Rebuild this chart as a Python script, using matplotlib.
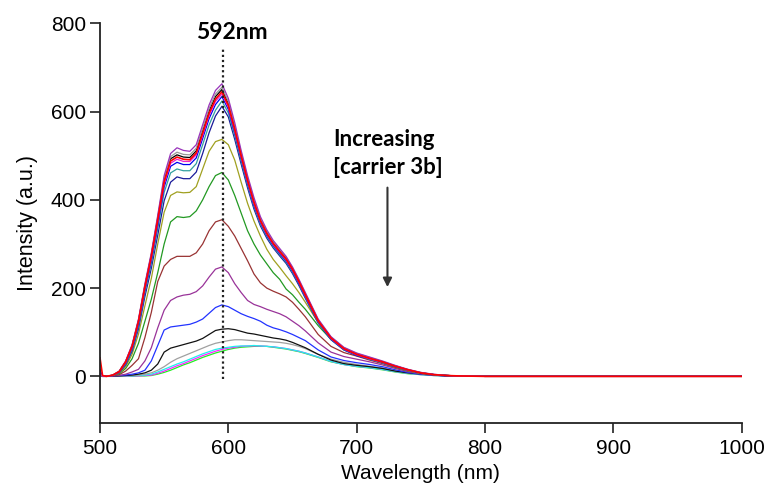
import matplotlib
matplotlib.use("Agg")
import matplotlib.pyplot as plt

# Wavelength grid (nm)
W = [500, 502, 505, 510, 515, 520, 525, 530, 535, 540,
     545, 550, 555, 560, 565, 570, 575, 580, 585, 590,
     595, 600, 605, 610, 615, 620, 625, 630, 635, 640,
     645, 650, 655, 660, 670, 680, 690, 700, 710, 720,
     730, 740, 750, 760, 770, 780, 800, 1000]

# Emission intensities (a.u.)
purple1 = [8, 0, 0, 3, 12, 35, 72, 130, 210, 280, 365, 455, 505, 518, 512, 510, 525, 570, 615, 648,
           663, 630, 575, 512, 455, 405, 362, 332, 308, 290, 272, 248, 220, 190, 130, 90, 66, 53, 44, 35,
           25, 16, 9, 5, 2, 1, 0, 0]
gray1 = [5, 0, 0, 3, 12, 34, 70, 128, 207, 277, 362, 450, 498, 508, 503, 502, 517, 562, 607, 640,
         655, 623, 568, 507, 450, 400, 358, 328, 305, 287, 270, 246, 218, 188, 128, 89, 65, 52, 43, 34,
         24, 15, 9, 4, 2, 1, 0, 0]
black1 = [5, 0, 0, 3, 11, 33, 69, 126, 205, 275, 358, 445, 493, 502, 497, 496, 511, 556, 601, 634,
          650, 618, 563, 503, 447, 397, 355, 326, 303, 285, 268, 244, 216, 186, 127, 88, 64, 51, 42, 33,
          24, 15, 8, 4, 2, 1, 0, 0]
red1 = [42, 2, 0, 3, 11, 33, 68, 125, 203, 272, 355, 441, 488, 497, 492, 491, 506, 551, 596, 628,
        645, 614, 560, 500, 444, 394, 353, 324, 301, 283, 266, 243, 215, 185, 126, 87, 63, 50, 41, 33,
        23, 15, 8, 4, 2, 1, 0, 0]
magenta1 = [3, 0, 0, 2, 10, 31, 66, 122, 200, 268, 350, 436, 483, 492, 487, 487, 502, 546, 591, 623,
            640, 610, 556, 497, 441, 391, 351, 322, 299, 281, 264, 241, 213, 183, 125, 86, 62, 49, 40, 32,
            23, 14, 8, 4, 2, 1, 0, 0]
blue1 = [15, 0, 0, 2, 10, 30, 64, 119, 196, 263, 344, 429, 476, 485, 480, 480, 495, 539, 584, 616,
         634, 605, 552, 494, 438, 388, 349, 320, 297, 279, 262, 239, 211, 181, 124, 85, 61, 48, 40, 32,
         22, 14, 8, 4, 2, 1, 0, 0]
teal1 = [3, 0, 0, 2, 9, 28, 61, 114, 190, 255, 334, 417, 461, 470, 466, 466, 482, 525, 570, 603,
         624, 597, 545, 488, 433, 384, 345, 317, 294, 276, 259, 236, 209, 179, 122, 84, 60, 48, 39, 31,
         22, 14, 8, 4, 2, 1, 0, 0]
navy1 = [3, 0, 0, 2, 8, 26, 57, 108, 181, 245, 320, 398, 440, 452, 448, 448, 463, 505, 552, 590,
         612, 588, 537, 481, 427, 379, 341, 313, 291, 273, 256, 233, 206, 177, 121, 83, 60, 47, 39, 31,
         22, 14, 8, 4, 2, 1, 0, 0]
olive1 = [3, 0, 0, 2, 7, 22, 50, 96, 160, 222, 300, 372, 410, 418, 416, 417, 430, 470, 510, 532,
          537, 525, 490, 440, 392, 352, 318, 288, 265, 247, 228, 210, 190, 168, 122, 85, 62, 50, 40, 31,
          21, 13, 7, 4, 2, 1, 0, 0]
green1 = [3, 0, 0, 2, 6, 18, 40, 75, 125, 175, 235, 300, 350, 362, 360, 362, 375, 400, 430, 455,
          462, 445, 410, 370, 330, 300, 275, 255, 235, 220, 198, 185, 168, 152, 115, 84, 62, 50, 40, 31,
          21, 13, 7, 4, 2, 1, 0, 0]
darkred1 = [3, 0, 0, 1, 4, 12, 25, 40, 88, 145, 215, 250, 265, 272, 272, 272, 280, 300, 330, 350,
            355, 340, 318, 290, 262, 232, 212, 200, 193, 187, 180, 168, 152, 135, 95, 68, 54, 46, 37, 29,
            20, 12, 7, 4, 2, 1, 0, 0]
purple2 = [3, 0, 0, 1, 2, 5, 10, 16, 35, 65, 110, 150, 172, 180, 184, 186, 192, 205, 225, 243,
           248, 235, 210, 190, 172, 163, 158, 152, 147, 142, 135, 125, 115, 103, 76, 55, 45, 39, 33, 26,
           18, 11, 6, 3, 2, 1, 0, 0]
blue2 = [5, 0, 0, 1, 2, 3, 5, 8, 14, 35, 70, 105, 112, 114, 116, 118, 123, 130, 143, 156,
         162, 158, 150, 142, 136, 131, 125, 116, 110, 106, 101, 95, 88, 81, 60, 44, 36, 31, 27, 22,
         15, 9, 5, 3, 1, 1, 0, 0]
black2 = [3, 0, 0, 0, 1, 2, 3, 5, 8, 14, 28, 55, 64, 68, 72, 76, 80, 86, 95, 104,
          107, 108, 106, 102, 98, 96, 93, 90, 87, 85, 82, 77, 71, 65, 50, 37, 29, 25, 22, 18,
          12, 8, 5, 3, 1, 1, 0, 0]
gray2 = [3, 0, 0, 0, 1, 1, 2, 3, 5, 8, 14, 22, 32, 40, 46, 52, 58, 64, 70, 75,
         78, 81, 83, 83, 82, 81, 80, 79, 78, 77, 75, 72, 68, 63, 50, 39, 32, 27, 23, 19,
         13, 8, 5, 3, 1, 1, 0, 0]
cyan1 = [3, 0, 0, 0, 0, 1, 1, 2, 3, 5, 10, 16, 22, 28, 33, 39, 45, 51, 56, 61,
         64, 66, 68, 69, 69, 70, 69, 68, 67, 65, 63, 60, 57, 53, 44, 34, 27, 23, 20, 16,
         11, 7, 4, 2, 1, 1, 0, 0]
magenta2 = [3, 0, 0, 0, 0, 0, 1, 1, 2, 3, 7, 12, 18, 24, 29, 35, 41, 47, 52, 57,
            61, 64, 66, 68, 69, 69, 69, 68, 67, 65, 63, 60, 57, 53, 44, 34, 27, 23, 20, 16,
            11, 7, 4, 2, 1, 1, 0, 0]
lime1 = [3, 0, 0, 0, 0, 0, 0, 1, 1, 2, 5, 9, 14, 20, 26, 31, 37, 43, 48, 53,
         57, 61, 64, 66, 67, 68, 68, 68, 66, 64, 62, 59, 56, 52, 43, 33, 27, 22, 19, 15,
         10, 6, 4, 2, 1, 1, 0, 0]

# drawing order: lowest first, red last
series = [
    (lime1, "#22EE22", 0.9), (magenta2, "#FF22FF", 0.9), (cyan1, "#22EEEE", 0.9),
    (gray2, "#A0A0A0", 0.9), (black2, "#111111", 0.9), (blue2, "#2233FF", 0.9),
    (purple2, "#993399", 0.9), (darkred1, "#993333", 0.9), (green1, "#229922", 0.9),
    (olive1, "#A0A020", 0.9), (navy1, "#1A1A99", 0.9), (teal1, "#33A0A0", 0.9),
    (blue1, "#0000EE", 0.9), (magenta1, "#EE22CC", 0.9), (black1, "#000000", 0.9),
    (gray1, "#999999", 0.9), (purple1, "#9933BB", 0.9), (red1, "#FF0000", 1.2),
]

peak_wl = 596
peak_label = "592nm"

fig = plt.figure(figsize=(7.68, 4.86), dpi=100)
ax = fig.add_axes([0.1302, 0.1302, 0.8355, 0.8218])

for ys, c, lw in series:
    ax.plot(W, ys, color=c, lw=lw)

ax.plot([peak_wl, peak_wl], [-5, 745], color="#222222", lw=1.6, linestyle=(0, (1, 1.3)))

ax.set_xlim(500, 1000)
ax.set_ylim(-105, 800)
ax.set_xticks([500, 600, 700, 800, 900, 1000])
ax.set_yticks([0, 200, 400, 600, 800])
for s in ["top", "right"]:
    ax.spines[s].set_visible(False)
for s in ["left", "bottom"]:
    ax.spines[s].set_linewidth(1.3)
    ax.spines[s].set_color("#222222")
ax.tick_params(axis="both", direction="out", length=7, width=1.3, color="#333333",
               labelsize=15)
ax.tick_params(axis="x", pad=5)
ax.tick_params(axis="y", pad=3)
for lab in ax.get_xticklabels() + ax.get_yticklabels():
    lab.set_family("Liberation Sans")

ax.set_xlabel("Wavelength (nm)", fontsize=15, family="Liberation Sans", labelpad=4)
ax.set_ylabel("Intensity (a.u.)", fontsize=15.5, family="Liberation Sans", labelpad=9)

ax.text(603, 780, peak_label, ha="center", va="center", fontsize=16.5,
        fontweight="bold", family="Lato")
ax.text(721, 537, "Increasing", ha="center", va="center", fontsize=16,
        fontweight="bold", family="Lato")
ax.text(724, 474, "[carrier 3b]", ha="center", va="center", fontsize=16,
        fontweight="bold", family="Lato")
ax.annotate("", xy=(724, 196), xytext=(724, 434),
            arrowprops=dict(arrowstyle="-|>", color="#333333", lw=1.5, mutation_scale=13))

fig.savefig("out.png", dpi=100)
